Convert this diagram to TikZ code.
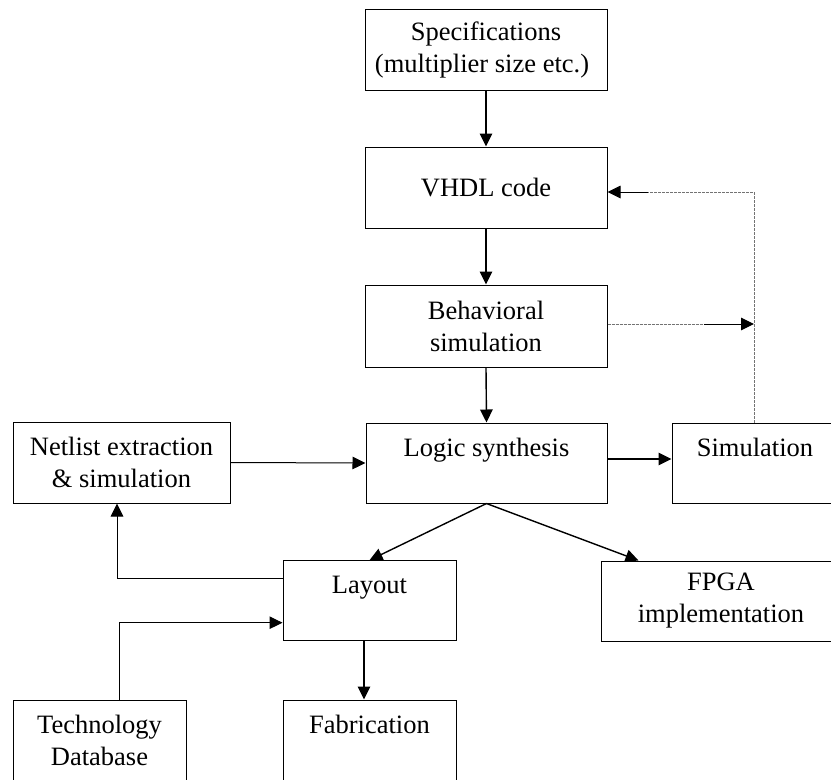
\documentclass[tikz,border=0pt]{standalone}
\usepackage{fontspec}
\setmainfont{Liberation Serif}
\usetikzlibrary{arrows.meta}

\begin{document}
\begin{tikzpicture}[x=1pt, y=-1pt,
  blk/.style={draw, line width=1pt, rectangle, align=center, inner sep=0pt,
              font=\fontsize{26.5}{32}\selectfont},
  flow/.style={line width=1.4pt, -{Triangle[length=13pt,width=12.5pt]}},
  thinflow/.style={line width=1pt, -{Triangle[length=13pt,width=12.5pt]}},
  fbline/.style={line width=1pt, draw=black!55, dash pattern=on 3pt off 1pt},
]
\useasboundingbox (0,0) rectangle (831,780);
\clip (0,0) rectangle (831,780);

% blocks of the design flow
\node[blk, minimum width=242, minimum height=81] (spec)   at (486,49.5)  {Specifications\\(multiplier size etc.)\kern8pt};
\node[blk, minimum width=242, minimum height=81] (vhdl)   at (486,187.5) {VHDL code};
\node[blk, minimum width=242, minimum height=82] (behav)  at (486,326)   {Behavioral\\simulation};
\node[blk, minimum width=241, minimum height=80] (logic)  at (486.5,463) {Logic synthesis\\~};
\node[blk, minimum width=166, minimum height=80] (sim)    at (755,463)   {Simulation\\~};
\node[blk, minimum width=217, minimum height=81] (net)    at (121.5,462.5) {Netlist extraction\\\& simulation};
\node[blk, minimum width=173, minimum height=80] (layout) at (369.5,600.7) {Layout\\~};
\node[blk, minimum width=240, minimum height=80] (fpga)   at (721,601)   {FPGA\\implementation};
\node[blk, minimum width=173, minimum height=80] (tech)   at (99.5,740)  {Technology\\Database};
\node[blk, minimum width=173, minimum height=80] (fab)    at (369.5,740) {Fabrication\\~};

% feedback junctions
\coordinate (fb) at (754,192);
\coordinate (bj) at (754,324);

% main flow
\draw[flow] (spec.south) -- (vhdl.north);
\draw[flow] (vhdl.south) -- (behav.north);
\draw[flow] (behav.south) -- (logic.north);
\draw[flow] ([yshift=4pt]logic.east) -- ([yshift=4pt]sim.west);
\draw[thinflow] (net.east) -- (logic.west);
\draw[flow] (logic.south) -- (layout.north);
\draw[flow] (logic.south) -- ([xshift=38pt]fpga.north west);
\draw[flow] ([xshift=-5.5pt]layout.south) -- ([xshift=-5.5pt]fab.north);
\draw[thinflow] ([yshift=22pt]layout.west) -| ([xshift=-4.5pt]net.south);
\draw[thinflow] ([xshift=19.5pt]tech.north) |- ([yshift=-22pt]layout.west);

% simulation feedback
\draw[fbline] (fb |- sim.north) -- (fb) -- ([xshift=40pt]vhdl.east |- fb);
\draw[thinflow] ([xshift=40pt]vhdl.east |- fb) -- (vhdl.east |- fb);
\draw[fbline] (behav.east |- bj) -- ([xshift=-50pt]bj);
\draw[thinflow] ([xshift=-50pt]bj) -- (bj);
\end{tikzpicture}
\end{document}
